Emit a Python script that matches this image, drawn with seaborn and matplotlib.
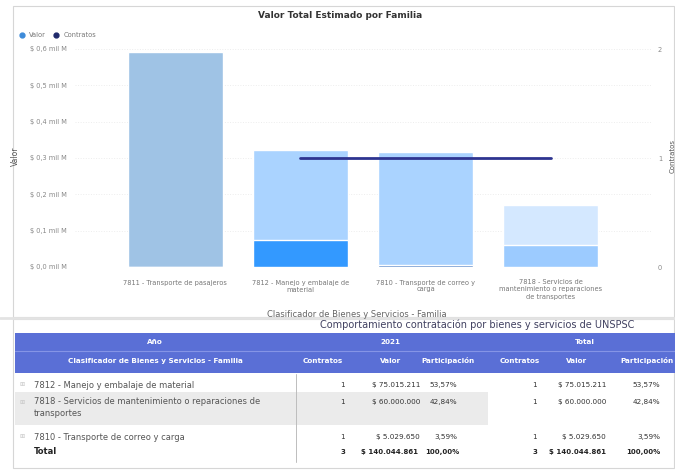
import matplotlib
matplotlib.use("Agg")
import matplotlib.pyplot as plt
import seaborn as sns
import pandas as pd
import numpy as np
from matplotlib.patches import Rectangle
from matplotlib.lines import Line2D
from matplotlib.ticker import FixedLocator, FixedFormatter

# ---------------- data ----------------
familias = [
    "7811 - Transporte de pasajeros",
    "7812 - Manejo y embalaje de\nmaterial",
    "7810 - Transporte de correo y\ncarga",
    "7818 - Servicios de\nmantenimiento o reparaciones\nde transportes",
]
valor_total = [592_000_000, 322_000_000, 317_000_000, 171_000_000]
valor_seleccion = [0, 75_015_211, 5_029_650, 60_000_000]
contratos = [np.nan, 1, 1, 1]

y_ticks = [0, 100_000_000, 200_000_000, 300_000_000, 400_000_000, 500_000_000, 600_000_000]
y_tick_labels = ["$ 0,0 mil M", "$ 0,1 mil M", "$ 0,2 mil M", "$ 0,3 mil M",
                 "$ 0,4 mil M", "$ 0,5 mil M", "$ 0,6 mil M"]
contratos_ticks = [0, 1, 2]

colores_total = ["#9FC3E5", "#AAD3FF", "#AAD3FF", "#D4E8FF"]
colores_seleccion = ["#9FC3E5", "#3399FF", "#4F7FC4", "#9CCBFF"]

tabla_titulo = "Comportamiento contratación por bienes y servicios de UNSPSC"
tabla_familias = [
    "7812 - Manejo y embalaje de material",
    "7818 - Servicios de mantenimiento o reparaciones de\ntransportes",
    "7810 - Transporte de correo y carga",
]
tabla_contratos = [1, 1, 1]
tabla_valor = [75_015_211, 60_000_000, 5_029_650]
tabla_participacion = ["53,57%", "42,84%", "3,59%"]
total_contratos = 3
total_valor = 140_044_861
total_participacion = "100,00%"
anio = "2021"

# ---------------- figure ----------------
sns.set_theme(style="white")
plt.rcParams["font.family"] = ["DejaVu Sans"]

W, H = 675, 471
fig = plt.figure(figsize=(W / 100, H / 100), dpi=100)
fig.patch.set_facecolor("white")

ov = fig.add_axes([0, 0, 1, 1])
ov.set_xlim(0, W)
ov.set_ylim(H, 0)
ov.axis("off")

# frames
ov.add_patch(Rectangle((13, 6), 661, 311, fill=False, edgecolor="#D6D6D6", lw=0.8))
ov.add_patch(Rectangle((13, 319), 661, 149, fill=False, edgecolor="#D6D6D6", lw=0.8))
ov.plot([0, W], [318, 318], color="#E3E3E3", lw=2)

# chart axes
axl, axr, axt, axb = 75, 651, 45, 267
ax = fig.add_axes([axl / W, 1 - axb / H, (axr - axl) / W, (axb - axt) / H])
ax.set_facecolor("none")

df = pd.DataFrame({"familia": familias, "total": valor_total,
                   "seleccion": valor_seleccion})
sns.barplot(data=df, x="familia", y="total", hue="familia", palette=colores_total,
            legend=False, width=0.76, saturation=1, ax=ax, zorder=2)
sns.barplot(data=df, x="familia", y="seleccion", hue="familia", palette=colores_seleccion,
            legend=False, width=0.76, saturation=1, ax=ax, zorder=3)

ax.set_xlim(-0.8, 3.8)
ax.set_ylim(0, 611_000_000)
ax.yaxis.set_major_locator(FixedLocator(y_ticks))
ax.yaxis.set_major_formatter(FixedFormatter(y_tick_labels))
ax.tick_params(axis="y", labelsize=4.8, labelcolor="#888888", length=0, pad=6)
ax.tick_params(axis="x", labelsize=4.8, labelcolor="#777777", length=0, pad=9)
for s in ax.spines.values():
    s.set_visible(False)
ax.grid(axis="y", color="#EDEDED", linestyle=":", linewidth=0.7, zorder=0)
ax.set_ylabel("Valor", fontsize=5.5, color="#555555")
ax.yaxis.set_label_coords(-0.095, 0.5)
ax.set_xlabel("Clasificador de Bienes y Servicios - Familia", fontsize=6, color="#666666")
ax.xaxis.set_label_coords(0.49, -0.195)

ax2 = ax.twinx()
dfl = pd.DataFrame({"pos": np.arange(len(familias)), "contratos": contratos}).dropna()
sns.lineplot(data=dfl, x="pos", y="contratos", ax=ax2, color="#2E3490", linewidth=2,
             zorder=5)
ax2.set_ylim(0, 2.037)
ax2.yaxis.set_major_locator(FixedLocator(contratos_ticks))
ax2.tick_params(axis="y", labelsize=4.8, labelcolor="#888888", length=0, pad=5)
ax2.set_ylabel("Contratos", fontsize=5, color="#555555")
ax2.yaxis.set_label_coords(1.032, 0.5)
for s in ax2.spines.values():
    s.set_visible(False)
ax2.set_xlim(-0.8, 3.8)

# legend + title
handles = [Line2D([], [], marker="o", linestyle="", color="#3D8BD9", markersize=3.5),
           Line2D([], [], marker="o", linestyle="", color="#1F2A6B", markersize=3.5)]
fig.legend(handles, ["Valor", "Contratos"], loc="upper left",
           bbox_to_anchor=(12 / W, 1 - 29 / H), ncol=2, frameon=False, fontsize=4.8,
           handletextpad=0.1, columnspacing=0.5, borderpad=0, labelcolor="#777777")
ov.text(340, 16, "Valor Total Estimado por Familia", ha="center", va="center",
        fontsize=6.5, fontweight="bold", color="#333333")

# ---------------- table ----------------
def fmt_money(v):
    return "$ " + f"{v:,}".replace(",", ".")

ov.text(477, 325, tabla_titulo, ha="center", va="center", fontsize=7, color="#404060")
ov.add_patch(Rectangle((15, 333), 660, 40, color="#5A6FD6", lw=0))
ov.plot([15, 675], [350.5, 350.5], color="#8594E6", lw=0.8)
hdr = dict(color="white", fontweight="bold", fontsize=5.2, va="center")
ov.text(155, 342, "Año", ha="center", **hdr)
ov.text(390, 342, anio, ha="center", **hdr)
ov.text(585, 342, "Total", ha="center", **hdr)
ov.text(155, 361, "Clasificador de Bienes y Servicios - Familia", ha="center", **hdr)
ov.text(343, 361, "Contratos", ha="right", **hdr)
ov.text(391, 361, "Valor", ha="center", **hdr)
ov.text(448, 361, "Participación", ha="center", **hdr)
ov.text(540, 361, "Contratos", ha="right", **hdr)
ov.text(577, 361, "Valor", ha="center", **hdr)
ov.text(620, 361, "Participación", ha="left", **hdr)

row_y = [385, 402, 437]
ov.add_patch(Rectangle((15, 392), 473, 33, color="#EBEBEB", lw=0))
ov.plot([296, 296], [374, 462], color="#BDBDBD", lw=0.7)
cell = dict(fontsize=5.2, color="#333333", va="center")
for i, y in enumerate(row_y):
    ov.text(19, y, "⊞", fontsize=4.5, color="#C4C4C4", va="center")
    if "\n" in tabla_familias[i]:
        ov.text(34, y - 5, tabla_familias[i], fontsize=6, color="#555555", va="top",
                linespacing=1.5)
    else:
        ov.text(34, y, tabla_familias[i], fontsize=6, color="#555555", va="center")
    ov.text(345, y, str(tabla_contratos[i]), ha="right", **cell)
    ov.text(420, y, fmt_money(tabla_valor[i]), ha="right", **cell)
    ov.text(457, y, tabla_participacion[i], ha="right", **cell)
    ov.text(537, y, str(tabla_contratos[i]), ha="right", **cell)
    ov.text(606, y, fmt_money(tabla_valor[i]), ha="right", **cell)
    ov.text(660, y, tabla_participacion[i], ha="right", **cell)

ty = 452
tot = dict(fontsize=5, color="#222222", va="center", fontweight="semibold")
ov.text(34, ty, "Total", fontsize=6, color="#222222", va="center", fontweight="bold")
ov.text(345, ty, str(total_contratos), ha="right", **tot)
ov.text(418, ty, fmt_money(total_valor), ha="right", **tot)
ov.text(459, ty, total_participacion, ha="right", **tot)
ov.text(537, ty, str(total_contratos), ha="right", **tot)
ov.text(606, ty, fmt_money(total_valor), ha="right", **tot)
ov.text(660, ty, total_participacion, ha="right", **tot)

fig.savefig("out.png", dpi=100, facecolor="white")
